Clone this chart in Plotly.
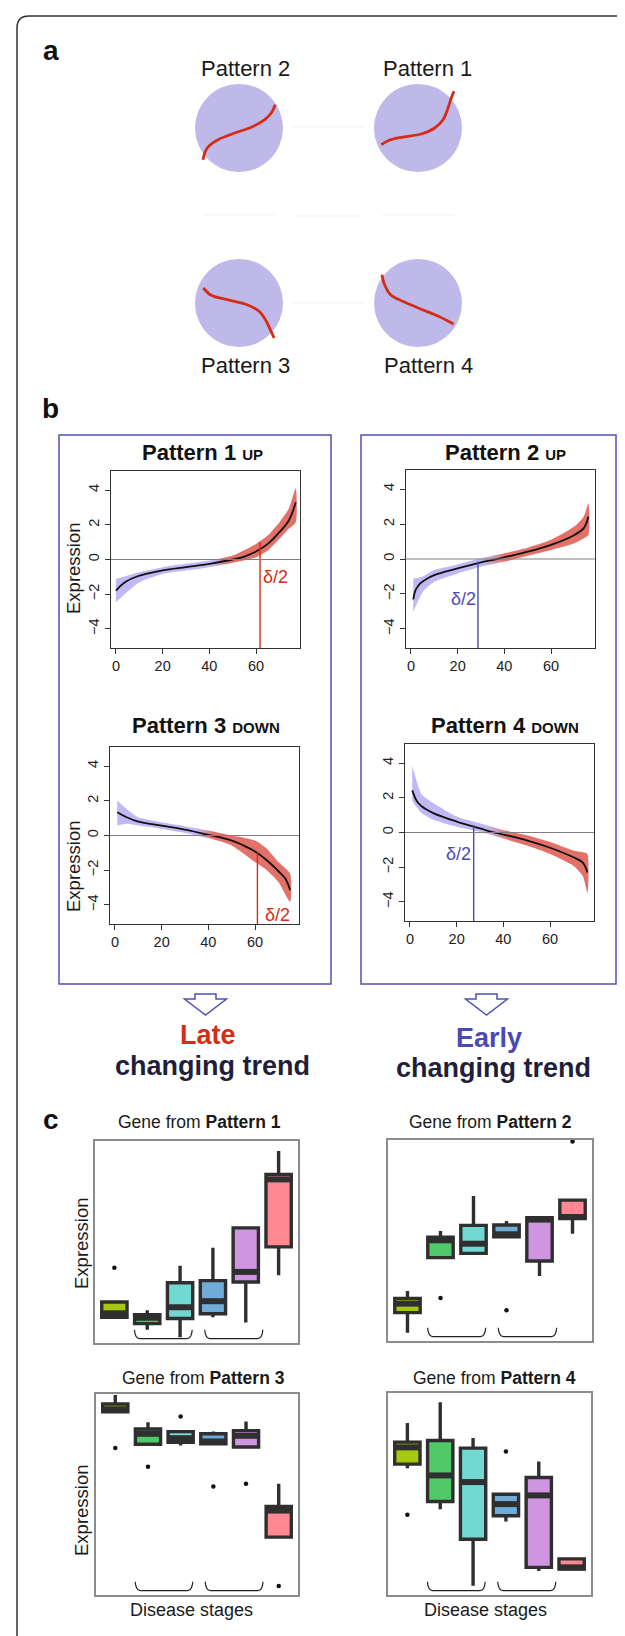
import plotly.graph_objects as go

W, H = 625, 1636
FONT = "Liberation Sans, Arial, sans-serif"


def px(x):
    return x / W


def py(y):
    return 1 - y / H


# ---------------- Panel a : sketch curves (pixel offsets from circle centre) ----------------
P1_SKETCH_DX = [-36.7, -30, -16.7, 3.3, 16.7, 25, 30, 33.3, 36]
P1_SKETCH_DY = [16.7, 12.7, 9.3, 6, 0, -8.3, -20, -30, -36.7]
P2_SKETCH_DX = [-36, -33.7, -29.3, -21, -4.3, 12.3, 25.7, 32.3, 36.3]
P2_SKETCH_DY = [31.7, 23.3, 17.3, 11.7, 5, -0.7, -8.3, -15, -23.3]
P3_SKETCH_DX = [-35.7, -27.7, -11.8, 8.1, 20.1, 27.3, 32, 35.2]
P3_SKETCH_DY = [-15, -7.7, -3.3, 1.7, 8.3, 18.3, 28.3, 35]
P4_SKETCH_DX = [-36.1, -33.4, -27.4, -15.4, 4.5, 20.4, 35.6]
P4_SKETCH_DY = [-28.3, -18.3, -8.3, -1.7, 6.7, 13.3, 21]

# ---------------- Panel b : trend curves and point-cloud envelopes ----------------
X_TICKS = [0, 20, 40, 60]
Y_TICKS = [-4, -2, 0, 2, 4]

P1_X = [0, 4, 9, 20, 30, 40, 50, 55, 60, 65, 70, 74, 77]
P1_Y = [-1.79, -1.3, -0.98, -0.63, -0.44, -0.25, 0.0, 0.17, 0.46, 0.9, 1.58, 2.25, 3.3]
P1_BX = [0, 10, 20, 30, 40, 50, 60, 65, 70, 74, 77]
P1_HI = [-1.12, -0.73, -0.44, -0.25, -0.06, 0.23, 0.9, 1.38, 2.15, 2.92, 4.1]
P1_LO = [-2.46, -1.31, -0.83, -0.63, -0.44, -0.19, 0.13, 0.52, 1.19, 1.77, 2.15]

P2_X = [1, 2, 4, 7, 10, 20, 30, 37, 40, 50, 60, 70, 74, 76]
P2_Y = [-2.31, -1.79, -1.40, -1.12, -0.92, -0.54, -0.19, 0.0, 0.1, 0.42, 0.81, 1.38, 1.77, 2.44]
P2_BX = [1, 5, 10, 20, 30, 40, 50, 60, 70, 74, 76]
P2_HI = [-1.12, -1.0, -0.63, -0.31, 0.04, 0.33, 0.65, 1.1, 1.87, 2.44, 3.2]
P2_LO = [-3.04, -1.9, -1.31, -0.83, -0.44, -0.15, 0.19, 0.52, 0.9, 1.19, 1.38]

P3_X = [1, 5, 10, 20, 30, 40, 50, 55, 60, 65, 70, 73, 75]
P3_Y = [1.34, 1.05, 0.8, 0.57, 0.34, 0.04, -0.29, -0.57, -0.92, -1.43, -2.06, -2.49, -3.15]
P3_BX = [1, 5, 10, 20, 30, 40, 50, 60, 65, 70, 75]
P3_HI = [2.0, 1.53, 1.05, 0.76, 0.54, 0.29, 0.0, -0.29, -0.76, -1.53, -2.2]
P3_LO = [0.57, 0.67, 0.57, 0.38, 0.15, -0.15, -0.57, -1.53, -2.0, -2.68, -3.82]

P4_X = [1, 3, 5, 10, 20, 30, 35, 40, 50, 60, 70, 74, 76]
P4_Y = [2.43, 1.8, 1.51, 1.12, 0.63, 0.24, 0.04, -0.12, -0.45, -0.88, -1.43, -1.73, -2.31]
P4_BX = [1, 5, 10, 20, 30, 40, 50, 60, 70, 74, 76]
P4_HI = [3.86, 2.2, 1.7, 0.92, 0.53, 0.14, -0.16, -0.55, -1.04, -1.14, -1.24]
P4_LO = [1.8, 1.12, 0.73, 0.33, 0.04, -0.35, -0.75, -1.24, -1.92, -2.51, -3.49]

DELTA_X = [61.7, 28.7, 61.0, 27.3]
DELTA_TOP = [1.0, -0.15, -1.0, 0.43]

# ---------------- Panel c : box statistics (relative expression 0-100) ----------------
STAGES = [1, 2, 3, 4, 5, 6]

C1_Q1 = [12.7, 9.6, 12.1, 14.5, 30.2, 47.6]
C1_MED = [14.7, 12.5, 17.7, 20.7, 35.2, 81.0]
C1_Q3 = [20.3, 14.0, 29.8, 30.9, 57.0, 83.5]
C1_LO = [12.1, 6.6, 2.8, 12.7, 10.2, 33.6]
C1_HI = [21.2, 16.2, 38.3, 47.1, 57.0, 95.0]
C1_OUT_X = [1]
C1_OUT_Y = [37.2]

C2_Q1 = [14.1, 41.5, 43.6, 51.9, 39.8, 60.9]
C2_MED = [18.6, 50.1, 48.4, 53.1, 60.4, 61.7]
C2_Q3 = [21.2, 51.7, 57.5, 57.7, 61.4, 70.1]
C2_LO = [4.1, 41.5, 43.6, 51.9, 32.3, 53.4]
C2_HI = [24.9, 54.7, 72.1, 59.7, 62.2, 70.1]
C2_OUT_X = [2, 4, 6]
C2_OUT_Y = [21.4, 15.3, 99.2]

C3_Q1 = [91.2, 75.0, 76.0, 75.2, 73.6, 28.8]
C3_MED = [92.4, 80.2, 78.0, 76.4, 79.2, 42.0]
C3_Q3 = [95.0, 82.6, 81.3, 80.2, 81.8, 44.1]
C3_LO = [91.2, 75.0, 74.4, 75.2, 73.6, 28.8]
C3_HI = [99.5, 86.0, 81.7, 81.3, 86.3, 55.4]
C3_OUT_X = [1, 2, 3, 4, 5, 6]
C3_OUT_Y = [73.1, 63.8, 88.8, 54.0, 55.4, 4.5]

C4_Q1 = [64.8, 46.3, 27.6, 39.2, 13.7, 12.9]
C4_MED = [73.1, 59.2, 55.9, 45.0, 49.3, 13.7]
C4_Q3 = [75.7, 76.5, 72.7, 49.9, 58.2, 17.9]
C4_LO = [62.8, 42.5, 4.6, 36.4, 11.9, 12.9]
C4_HI = [85.1, 95.4, 77.7, 49.9, 66.1, 17.9]
C4_OUT_X = [1, 4]
C4_OUT_Y = [39.7, 71.1]

BRACE_SPANS = [(1.61, 3.37), (3.75, 5.52)]

# ---------------- Styles ----------------
STAGE_COLORS = ["#a6c80e", "#50ca68", "#72d8d2", "#6fadd8", "#d095e0", "#ff8891"]
RED = "#d42c16"
BLUE = "#4a4ab2"
NAVY = "#1f1f3d"
BOX_BLUE = "#5252b4"
CIRCLE = "#bfb9e9"
PT_BLUE = "rgba(150,138,238,0.6)"
PT_RED = "rgba(214,46,34,0.68)"

fig = go.Figure()
shapes = []
ann = []


def text(x, y, s, size, color="#1a1a1a", angle=0, xanchor="center", **kw):
    ann.append(dict(x=px(x), y=py(y), xref="paper", yref="paper", text=s, showarrow=False,
                    textangle=angle, xanchor=xanchor, yanchor="middle",
                    font=dict(family=FONT, size=size, color=color), **kw))


# ---------------- Panel a ----------------
fig.update_layout(
    xaxis=dict(domain=[0, 1], range=[0, W], visible=False, fixedrange=True),
    yaxis=dict(domain=[py(380), 1], range=[380, 0], visible=False, fixedrange=True),
)
SKETCH_CENTERS = [(410, 120), (231, 120), (231, 295), (410, 295)]
SKETCH_R = 44
sketch = [(P1_SKETCH_DX, P1_SKETCH_DY), (P2_SKETCH_DX, P2_SKETCH_DY),
          (P3_SKETCH_DX, P3_SKETCH_DY), (P4_SKETCH_DX, P4_SKETCH_DY)]
# very faint connector traces
for (x0, y0, x1, y1) in [(284, 119, 357, 119), (284, 295, 357, 295), (195, 207, 267, 207),
                         (284, 208, 356, 208), (374, 207, 446, 207)]:
    shapes.append(dict(type="line", xref="x", yref="y", x0=x0, y0=y0, x1=x1, y1=y1,
                       line=dict(color="rgba(230,200,200,0.25)", width=1)))
for (cx, cy), (dx, dy) in zip(SKETCH_CENTERS, sketch):
    shapes.append(dict(type="circle", xref="x", yref="y", x0=cx - SKETCH_R, x1=cx + SKETCH_R,
                       y0=cy - SKETCH_R, y1=cy + SKETCH_R, fillcolor=CIRCLE, line=dict(width=0),
                       layer="below"))
    fig.add_trace(go.Scatter(x=[cx + v for v in dx], y=[cy + v for v in dy], mode="lines",
                             line=dict(color=RED, width=2.8, shape="spline"),
                             xaxis="x", yaxis="y", hoverinfo="skip", showlegend=False))

text(43, 42, "<b>a</b>", 28, "#111")
text(237, 60, "Pattern 2", 22, "#1a1a1a")
text(419, 60, "Pattern 1", 22, "#1a1a1a")
text(237, 357, "Pattern 3", 22, "#1a1a1a")
text(420, 357, "Pattern 4", 22, "#1a1a1a")

# ---------------- Panel b ----------------
text(42, 401, "<b>b</b>", 28, "#111")
shapes.append(dict(type="rect", xref="paper", yref="paper", x0=px(51), x1=px(323), y0=py(976), y1=py(427),
                   line=dict(color=BOX_BLUE, width=1.5)))
shapes.append(dict(type="rect", xref="paper", yref="paper", x0=px(353), x1=px(608), y0=py(976), y1=py(427),
                   line=dict(color=BOX_BLUE, width=1.5)))

B_FRAMES = [(103, 292, 463, 640), (398, 587, 462, 640), (102, 291, 739, 916), (397, 586, 736, 913)]
curves = [(P1_X, P1_Y, P1_BX, P1_HI, P1_LO), (P2_X, P2_Y, P2_BX, P2_HI, P2_LO),
          (P3_X, P3_Y, P3_BX, P3_HI, P3_LO), (P4_X, P4_Y, P4_BX, P4_HI, P4_LO)]
GRAD = [(42, 47), (31, 40), (35, 42), (33, 42)]
DCOL = [RED, BLUE, RED, BLUE]
TITLES = ["<b>Pattern 1 <span style='font-size:15px'>UP</span></b>",
          "<b>Pattern 2 <span style='font-size:15px'>UP</span></b>",
          "<b>Pattern 3 <span style='font-size:15px'>DOWN</span></b>",
          "<b>Pattern 4 <span style='font-size:15px'>DOWN</span></b>"]
TITLE_POS = [(194, 445), (497, 445), (198, 717), (497, 717)]
DLAB_POS = [(68.5, -1.0), (22.3, -2.3), (69.7, -4.6), (20.6, -1.24)]
YR = [-5.1, 5.1]

for i, ((x0, x1, y0, y1), (cx_, cy_, bx, hi, lo)) in enumerate(zip(B_FRAMES, curves)):
    n = i + 2
    xa, ya = f"x{n}", f"y{n}"
    axis_common = dict(showline=True, linecolor="#333", linewidth=1, mirror=True, ticks="outside",
                       ticklen=5, tickwidth=1, tickcolor="#333", showgrid=False, zeroline=False,
                       tickfont=dict(family=FONT, size=14.5, color="#222"), fixedrange=True)
    fig.update_layout(**{
        f"xaxis{n}": dict(domain=[px(x0), px(x1)], anchor=ya, range=[-2.1, 78.8], tickvals=X_TICKS,
                          **axis_common),
        f"yaxis{n}": dict(domain=[py(y1), py(y0)], anchor=xa, range=YR, tickvals=Y_TICKS,
                          tickangle=-90, **axis_common),
    })
    g0, g1 = GRAD[i]
    fig.add_trace(go.Scatter(
        x=bx + bx[::-1], y=hi + lo[::-1], mode="lines", fill="toself",
        line=dict(width=0, shape="spline", smoothing=0.6),
        fillgradient=dict(type="horizontal", start=0, stop=78,
                          colorscale=[[0, PT_BLUE], [g0 / 78, PT_BLUE], [g1 / 78, PT_RED], [1, PT_RED]]),
        xaxis=xa, yaxis=ya, hoverinfo="skip", showlegend=False))
    shapes.append(dict(type="line", xref=f"{xa} domain", yref=ya, x0=0, x1=1, y0=0, y1=0,
                       line=dict(color="#808080", width=1.2)))
    fig.add_trace(go.Scatter(x=cx_, y=cy_, mode="lines", line=dict(color="#111", width=1.8, shape="spline"),
                             xaxis=xa, yaxis=ya, hoverinfo="skip", showlegend=False))
    fig.add_trace(go.Scatter(x=[DELTA_X[i], DELTA_X[i]], y=[YR[0], DELTA_TOP[i]], mode="lines",
                             line=dict(color=DCOL[i], width=1.4), xaxis=xa, yaxis=ya,
                             hoverinfo="skip", showlegend=False))
    ann.append(dict(x=DLAB_POS[i][0], y=DLAB_POS[i][1], xref=xa, yref=ya, text="δ/2", showarrow=False,
                    font=dict(family=FONT, size=18, color=DCOL[i])))
    tx, ty = TITLE_POS[i]
    text(tx, ty, TITLES[i], 22, "#111")

text(65, 560, "Expression", 18.5, "#1a1a1a", angle=-90)
text(65, 858, "Expression", 18.5, "#1a1a1a", angle=-90)

# arrows
for cx in (197.5, 478.5):
    pts = [(cx - 10.5, 986), (cx + 10.5, 986), (cx + 10.5, 991), (cx + 21, 991), (cx, 1007),
           (cx - 21, 991), (cx - 10.5, 991)]
    path = "M " + " L ".join(f"{px(a):.5f},{py(b):.5f}" for a, b in pts) + " Z"
    shapes.append(dict(type="path", xref="paper", yref="paper", path=path, fillcolor="white",
                       line=dict(color=BOX_BLUE, width=1.5)))

text(200, 1027, "<b>Late</b>", 27, RED)
text(204, 1058, "<b>changing trend</b>", 27, NAVY)
text(481, 1030, "<b>Early</b>", 27, BLUE)
text(485, 1060, "<b>changing trend</b>", 27, NAVY)

# ---------------- Panel c ----------------
text(43, 1111, "<b>c</b>", 28, "#111")
C_FRAMES = [(87, 290, 1133, 1335), (380, 584, 1132, 1333), (88, 290, 1386, 1587), (380, 583, 1385, 1587)]
boxes = [(C1_Q1, C1_MED, C1_Q3, C1_LO, C1_HI, C1_OUT_X, C1_OUT_Y),
         (C2_Q1, C2_MED, C2_Q3, C2_LO, C2_HI, C2_OUT_X, C2_OUT_Y),
         (C3_Q1, C3_MED, C3_Q3, C3_LO, C3_HI, C3_OUT_X, C3_OUT_Y),
         (C4_Q1, C4_MED, C4_Q3, C4_LO, C4_HI, C4_OUT_X, C4_OUT_Y)]
BOX_W = 0.77
for i, ((x0, x1, y0, y1), (q1, med, q3, lo, hi, ox, oy)) in enumerate(zip(C_FRAMES, boxes)):
    n = i + 6
    xa, ya = f"x{n}", f"y{n}"
    frame = dict(showline=True, linecolor="#8c8c8c", linewidth=2, mirror=True, ticks="",
                 showticklabels=False, showgrid=False, zeroline=False, fixedrange=True)
    fig.update_layout(**{
        f"xaxis{n}": dict(domain=[px(x0), px(x1)], anchor=ya, range=[0.41, 6.59], **frame),
        f"yaxis{n}": dict(domain=[py(y1), py(y0)], anchor=xa, range=[0, 100], **frame),
    })
    for j, s in enumerate(STAGES):
        fig.add_trace(go.Box(x=[s], q1=[q1[j]], median=[med[j]], q3=[q3[j]], lowerfence=[lo[j]],
                             upperfence=[hi[j]], fillcolor=STAGE_COLORS[j],
                             line=dict(color="#2f2f2f", width=3.4), whiskerwidth=0, width=BOX_W,
                             boxpoints=False, xaxis=xa, yaxis=ya, hoverinfo="skip", showlegend=False))
    mx, my = [], []
    for j, s in enumerate(STAGES):
        mx += [s - BOX_W / 2, s + BOX_W / 2, None]
        my += [med[j], med[j], None]
    fig.add_trace(go.Scatter(x=mx, y=my, mode="lines", line=dict(color="#2f2f2f", width=6),
                             xaxis=xa, yaxis=ya, hoverinfo="skip", showlegend=False))
    fig.add_trace(go.Scatter(x=ox, y=oy, mode="markers", marker=dict(color="#111", size=4.5),
                             xaxis=xa, yaxis=ya, hoverinfo="skip", showlegend=False, cliponaxis=False))
    for (a, b) in BRACE_SPANS:
        t, u = 6.6, 2.2
        path = (f"M {a},{t} Q {a + 0.02},{u} {a + 0.16},{u} L {b - 0.16},{u} "
                f"Q {b - 0.02},{u} {b},{t}")
        shapes.append(dict(type="path", xref=xa, yref=ya, path=path, line=dict(color="#222", width=1.2)))

GF = "Gene from <b>Pattern {}</b>"
text(192, 1114, GF.format(1), 17.5)
text(482, 1114, GF.format(2), 17.5)
text(195, 1370, GF.format(3), 17.5)
text(486, 1370, GF.format(4), 17.5)
text(183, 1602, "Disease stages", 18)
text(477, 1602, "Disease stages", 18)
text(73, 1235, "Expression", 18.5, "#1a1a1a", angle=-90)
text(73, 1502, "Expression", 18.5, "#1a1a1a", angle=-90)

# outer border (cut on right and bottom)
border = (f"M {px(9)},{py(1640)} L {px(9)},{py(20)} Q {px(9)},{py(8)} {px(21)},{py(8)} "
          f"L {px(632)},{py(8)}")
shapes.append(dict(type="path", xref="paper", yref="paper", path=border, line=dict(color="#333", width=1.5)))

fig.update_layout(width=W, height=H, margin=dict(l=0, r=0, t=0, b=0), paper_bgcolor="white",
                  plot_bgcolor="white", showlegend=False, boxmode="overlay", shapes=shapes,
                  annotations=ann, font=dict(family=FONT))
fig.write_html("out.html")
